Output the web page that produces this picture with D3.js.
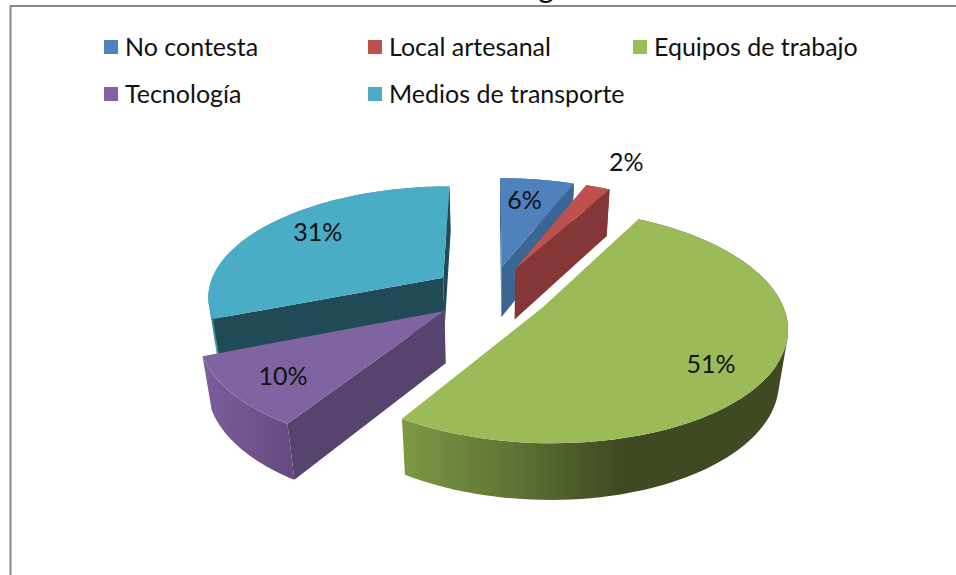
<!DOCTYPE html>
<html>
<head>
<meta charset="utf-8">
<script src="https://cdn.jsdelivr.net/npm/d3@7"></script>
<style>
html,body{margin:0;padding:0;background:#fff;overflow:hidden}
svg{display:block}
text{font-family:"Lato","Open Sans",sans-serif;fill:#111}
</style>
</head>
<body>
<svg id="chart" width="956" height="575"></svg>
<script>
const categories = ["No contesta","Local artesanal","Equipos de trabajo","Tecnología","Medios de transporte"];
const values = [6,2,51,10,31];
const topColors = ["#4f81bd","#c0504d","#9bbb59","#8064a2","#4bacc6"];
const sideColors = ["#3b6593","#843736","#56682f","#57446e","#1f4a56"];
const rimStops = [
  ["#3b6593","#3b6593"],
  ["#843736","#843736"],
  ["#7d9844","#5f7435","#3f4a22","#3f4a22"],
  ["#7b5f9c","#65497f"],
  ["#3f93a9","#3a8aa0"]
];
const labelPolar = [[0.74,-1.7],[1.37,0.6],[0.78,5.2],[0.79,-1.4],[0.755,3.7]];

const svg = d3.select("#chart");

// frame
svg.append("path").attr("d","M10.5 575V6H956").attr("fill","none").attr("stroke","#868686").attr("stroke-width",2);
svg.append("text").attr("x",546).attr("y",-2.5).attr("font-size",30).attr("text-anchor","middle").text("g");

// projection
const cx=491, cy=293, rx=236, ry=110, persp=0.155, depth=53, dq=0.03, explode=0.25;
function project(X,Y,low){
  const w = 1 + persp*Y + (low?dq:0);
  return [cx + rx*X/w, cy + (-ry*Y + (low?depth:0))/w];
}
const pie = d3.pie().value(d=>d).sort(null).startAngle(0).endAngle(2*Math.PI)(values);
const line = d3.line();
const defs = svg.append("defs");
const g = svg.append("g");

function slicePoint(d,a,r,low){
  const m=(d.startAngle+d.endAngle)/2;
  return project(explode*Math.sin(m)+r*Math.sin(a), explode*Math.cos(m)+r*Math.cos(a), low);
}
const drawOrder = [4,0,1,3,2];
drawOrder.forEach(i=>{
  const d = pie[i];
  const n = 90;
  const steps = d3.range(0,n+1).map(k=>d.startAngle+(d.endAngle-d.startAngle)*k/n);
  const apexT = slicePoint(d,0,0,false), apexB = slicePoint(d,0,0,true);
  const group = g.append("g");

  const faces = [
    {a:d.startAngle, vis:1},
    {a:d.endAngle, vis:-1}
  ];
  const facePts = faces.map(f=>({f,pts:[apexT,slicePoint(d,f.a,1,false),slicePoint(d,f.a,1,true),apexB]}));
  // hidden-surface culling of the radial walls, from the polygon orientation
  const visible = facePts.filter(o=>d3.polygonArea(o.pts)*o.f.vis>0);

  // rim: one path of same-wound quads, so the silhouette is filled without seams
  const top = steps.map(a=>slicePoint(d,a,1,false));
  const bot = steps.map(a=>slicePoint(d,a,1,true));
  const id="rim"+i;
  const xs = top.concat(bot).map(p=>p[0]);
  const grad = defs.append("linearGradient").attr("id",id).attr("gradientUnits","userSpaceOnUse")
    .attr("x1",i===2?402:d3.min(xs)).attr("x2",i===2?790:d3.max(xs)).attr("y1",0).attr("y2",0);
  rimStops[i].forEach((c,k,arr)=>{
    const off = i===2 ? [0,0.28,0.56,1][k] : k/(arr.length-1);
    grad.append("stop").attr("offset",off).attr("stop-color",c);
  });
  const rimPath = d3.range(n).map(k=>{
    const q=[top[k],top[k+1],bot[k+1],bot[k]];
    if(d3.polygonArea(q)<0) q.reverse();
    return line(q)+"Z";
  }).join("");
  group.append("path").attr("d",rimPath).attr("fill",`url(#${id})`);

  // radial walls
  visible.forEach(o=>{
    group.append("path").attr("d",line(o.pts)+"Z").attr("fill",sideColors[i]);
  });

  // top face
  const face=[apexT].concat(top);
  group.append("path").attr("d",line(face)+"Z").attr("fill",topColors[i]);
});

// data labels
pie.forEach((d,i)=>{
  const m=(d.startAngle+d.endAngle)/2, a=m+labelPolar[i][1]*Math.PI/180, f=labelPolar[i][0];
  const p=project(explode*Math.sin(m)+f*Math.sin(a), explode*Math.cos(m)+f*Math.cos(a), false);
  svg.append("text").attr("x",p[0]).attr("y",p[1]).attr("dy","0.36em").attr("text-anchor","middle")
    .attr("font-size",25).text(d3.format(".0%")(values[i]/d3.sum(values)));
});

// legend
const legX = d3.scaleOrdinal().domain([0,1,2]).range([104,368,633]);
const legY = d3.scaleOrdinal().domain([0,1]).range([47,94]);
const leg = svg.append("g");
categories.forEach((c,i)=>{
  const col=i%3, row=Math.floor(i/3);
  leg.append("rect").attr("x",legX(col)).attr("y",legY(row)-7).attr("width",14).attr("height",14).attr("fill",topColors[i]);
  leg.append("text").attr("x",legX(col)+21).attr("y",legY(row)).attr("dy","0.36em").attr("font-size",25).text(c);
});
</script>
</body>
</html>
